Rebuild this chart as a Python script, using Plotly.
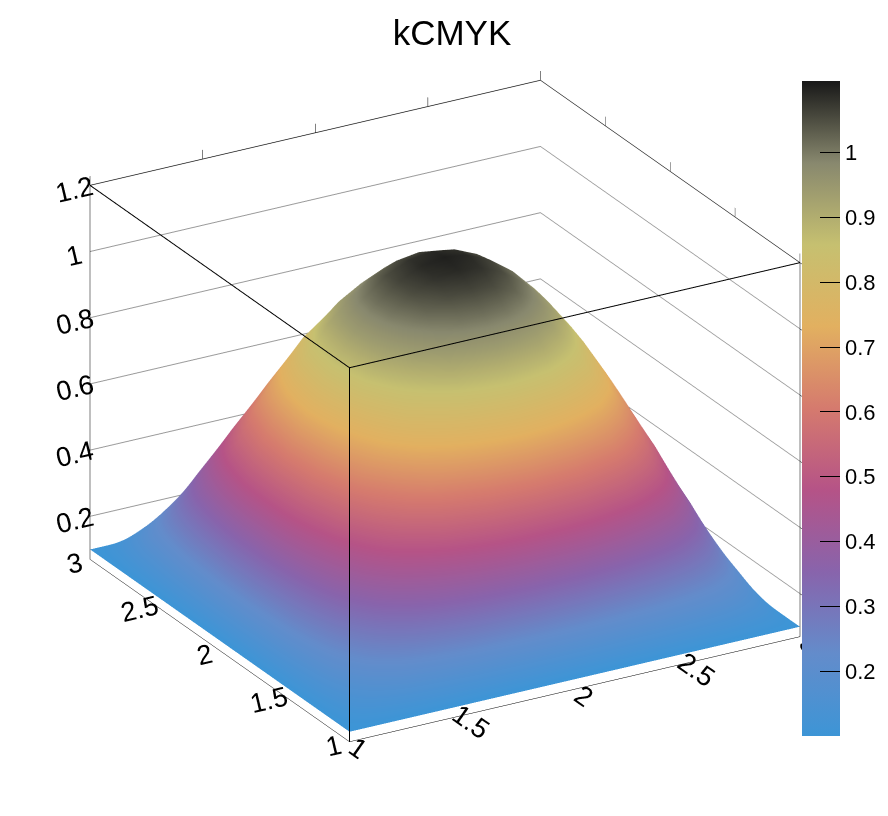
import plotly.graph_objects as go

# grid of the surface (bin centres)
x_vals = [1.0, 1.1, 1.2, 1.3, 1.4, 1.5, 1.6, 1.7, 1.8, 1.9, 2.0,
          2.1, 2.2, 2.3, 2.4, 2.5, 2.6, 2.7, 2.8, 2.9, 3.0]
y_vals = [1.0, 1.1, 1.2, 1.3, 1.4, 1.5, 1.6, 1.7, 1.8, 1.9, 2.0,
          2.1, 2.2, 2.3, 2.4, 2.5, 2.6, 2.7, 2.8, 2.9, 3.0]

# height, one row per y value
z_vals = [
    [0.10, 0.10, 0.10, 0.10, 0.10, 0.10, 0.10, 0.10, 0.10, 0.10, 0.10, 0.10, 0.10, 0.10, 0.10, 0.10, 0.10, 0.10, 0.10, 0.10, 0.10],
    [0.10, 0.14, 0.17, 0.20, 0.22, 0.24, 0.26, 0.27, 0.28, 0.29, 0.29, 0.29, 0.28, 0.27, 0.26, 0.24, 0.22, 0.20, 0.17, 0.14, 0.10],
    [0.10, 0.17, 0.23, 0.28, 0.33, 0.37, 0.40, 0.43, 0.45, 0.46, 0.46, 0.46, 0.45, 0.43, 0.40, 0.37, 0.33, 0.28, 0.23, 0.17, 0.10],
    [0.10, 0.20, 0.28, 0.36, 0.43, 0.48, 0.53, 0.56, 0.59, 0.60, 0.61, 0.60, 0.59, 0.56, 0.53, 0.48, 0.43, 0.36, 0.28, 0.20, 0.10],
    [0.10, 0.22, 0.33, 0.43, 0.51, 0.58, 0.64, 0.68, 0.71, 0.73, 0.74, 0.73, 0.71, 0.68, 0.64, 0.58, 0.51, 0.43, 0.33, 0.22, 0.10],
    [0.10, 0.24, 0.37, 0.48, 0.58, 0.66, 0.73, 0.78, 0.82, 0.84, 0.85, 0.84, 0.82, 0.78, 0.73, 0.66, 0.58, 0.48, 0.37, 0.24, 0.10],
    [0.10, 0.26, 0.40, 0.53, 0.64, 0.73, 0.81, 0.86, 0.91, 0.93, 0.94, 0.93, 0.91, 0.86, 0.81, 0.73, 0.64, 0.53, 0.40, 0.26, 0.10],
    [0.10, 0.27, 0.43, 0.56, 0.68, 0.78, 0.86, 0.93, 0.97, 1.00, 1.01, 1.00, 0.97, 0.93, 0.86, 0.78, 0.68, 0.56, 0.43, 0.27, 0.10],
    [0.10, 0.28, 0.45, 0.59, 0.71, 0.82, 0.91, 0.97, 1.02, 1.05, 1.06, 1.05, 1.02, 0.97, 0.91, 0.82, 0.71, 0.59, 0.45, 0.28, 0.10],
    [0.10, 0.29, 0.46, 0.60, 0.73, 0.84, 0.93, 1.00, 1.05, 1.08, 1.09, 1.08, 1.05, 1.00, 0.93, 0.84, 0.73, 0.60, 0.46, 0.29, 0.10],
    [0.10, 0.29, 0.46, 0.61, 0.74, 0.85, 0.94, 1.01, 1.06, 1.09, 1.10, 1.09, 1.06, 1.01, 0.94, 0.85, 0.74, 0.61, 0.46, 0.29, 0.10],
    [0.10, 0.29, 0.46, 0.60, 0.73, 0.84, 0.93, 1.00, 1.05, 1.08, 1.09, 1.08, 1.05, 1.00, 0.93, 0.84, 0.73, 0.60, 0.46, 0.29, 0.10],
    [0.10, 0.28, 0.45, 0.59, 0.71, 0.82, 0.91, 0.97, 1.02, 1.05, 1.06, 1.05, 1.02, 0.97, 0.91, 0.82, 0.71, 0.59, 0.45, 0.28, 0.10],
    [0.10, 0.27, 0.43, 0.56, 0.68, 0.78, 0.86, 0.93, 0.97, 1.00, 1.01, 1.00, 0.97, 0.93, 0.86, 0.78, 0.68, 0.56, 0.43, 0.27, 0.10],
    [0.10, 0.26, 0.40, 0.53, 0.64, 0.73, 0.81, 0.86, 0.91, 0.93, 0.94, 0.93, 0.91, 0.86, 0.81, 0.73, 0.64, 0.53, 0.40, 0.26, 0.10],
    [0.10, 0.24, 0.37, 0.48, 0.58, 0.66, 0.73, 0.78, 0.82, 0.84, 0.85, 0.84, 0.82, 0.78, 0.73, 0.66, 0.58, 0.48, 0.37, 0.24, 0.10],
    [0.10, 0.22, 0.33, 0.43, 0.51, 0.58, 0.64, 0.68, 0.71, 0.73, 0.74, 0.73, 0.71, 0.68, 0.64, 0.58, 0.51, 0.43, 0.33, 0.22, 0.10],
    [0.10, 0.20, 0.28, 0.36, 0.43, 0.48, 0.53, 0.56, 0.59, 0.60, 0.61, 0.60, 0.59, 0.56, 0.53, 0.48, 0.43, 0.36, 0.28, 0.20, 0.10],
    [0.10, 0.17, 0.23, 0.28, 0.33, 0.37, 0.40, 0.43, 0.45, 0.46, 0.46, 0.46, 0.45, 0.43, 0.40, 0.37, 0.33, 0.28, 0.23, 0.17, 0.10],
    [0.10, 0.14, 0.17, 0.20, 0.22, 0.24, 0.26, 0.27, 0.28, 0.29, 0.29, 0.29, 0.28, 0.27, 0.26, 0.24, 0.22, 0.20, 0.17, 0.14, 0.10],
    [0.10, 0.10, 0.10, 0.10, 0.10, 0.10, 0.10, 0.10, 0.10, 0.10, 0.10, 0.10, 0.10, 0.10, 0.10, 0.10, 0.10, 0.10, 0.10, 0.10, 0.10],
]

# kCMYK palette, sampled from the colour bar
cmyk = [
    [0.0, "rgb(61,149,214)"],
    [0.125, "rgb(99,140,203)"],
    [0.25, "rgb(136,100,172)"],
    [0.375, "rgb(181,83,135)"],
    [0.5, "rgb(213,122,110)"],
    [0.625, "rgb(226,176,96)"],
    [0.75, "rgb(198,192,112)"],
    [0.875, "rgb(136,136,110)"],
    [1.0, "rgb(24,24,24)"],
]

x_range = [1, 3]
y_range = [1, 3]
z_range = [0.07, 1.2]

font = "Liberation Sans, Arial, sans-serif"

surf = go.Surface(
    x=x_vals, y=y_vals, z=z_vals,
    colorscale=cmyk,
    cmin=0.1, cmax=1.11,
    lighting=dict(ambient=1.0, diffuse=0.0, specular=0.0, roughness=1.0, fresnel=0.0),
    hoverinfo="x+y+z",
    showscale=True,
    colorbar=dict(
        x=797 / 888, xanchor="left", xpad=0,
        y=0.509, yanchor="middle", ypad=0,
        len=655 / 816, lenmode="fraction",
        thickness=38, thicknessmode="pixels",
        outlinewidth=0,
        tickmode="array",
        tickvals=[0.2, 0.3, 0.4, 0.5, 0.6, 0.7, 0.8, 0.9, 1.0],
        ticktext=["0.2", "0.3", "0.4", "0.5", "0.6", "0.7", "0.8", "0.9", "1"],
        ticks="inside", ticklen=20, tickcolor="black",
        tickfont=dict(family=font, size=22, color="black"),
    ),
)

# front edges of the frame box (the back ones come from the axis lines)
x0, x1 = x_range
y0, y1 = y_range
z0, z1 = z_range
frame = go.Scatter3d(
    x=[x1, x0, x0, x0, x0],
    y=[y0, y0, y1, y0, y0],
    z=[z1, z1, z1, z1, z0],
    mode="lines",
    line=dict(color="black", width=2),
    hoverinfo="skip",
    showlegend=False,
)

axis_common = dict(
    showbackground=False,
    showline=True, linecolor="black", linewidth=1,
    mirror="all",
    ticks="", ticklen=0, tickwidth=0,
    tickfont=dict(family=font, size=18, color="black"),
    title=dict(text=""),
    showspikes=False,
    zeroline=False,
)

fig = go.Figure(data=[surf, frame])
fig.update_layout(
    width=888, height=816,
    paper_bgcolor="white",
    margin=dict(l=0, r=0, t=0, b=0),
    title=dict(text="kCMYK", x=0.5, xanchor="center", y=0.97, yanchor="middle",
               font=dict(family=font, size=35, color="black")),
    scene=dict(
        domain=dict(x=[0.0, 0.9876], y=[0.012, 1.0]),
        xaxis=dict(axis_common, range=x_range, showgrid=False,
                   tickvals=[1, 1.5, 2, 2.5, 3], ticktext=["1", "1.5", "2", "2.5", "3"]),
        yaxis=dict(axis_common, range=y_range, showgrid=False,
                   tickvals=[1, 1.5, 2, 2.5, 3], ticktext=["1", "1.5", "2", "2.5", "3"]),
        zaxis=dict(axis_common, range=z_range, showgrid=True, gridcolor="#999999",
                   tickvals=[0.2, 0.4, 0.6, 0.8, 1.0, 1.2],
                   ticktext=["0.2", "0.4", "0.6", "0.8", "1", "1.2"]),
        aspectmode="manual",
        aspectratio=dict(x=1.29, y=1.29, z=1.015),
        camera=dict(
            eye=dict(x=-0.753, y=-1.307, z=0.668),
            center=dict(x=0, y=0, z=0),
            up=dict(x=0, y=0, z=1),
            projection=dict(type="orthographic"),
        ),
    ),
)

fig.write_html("out.html")
